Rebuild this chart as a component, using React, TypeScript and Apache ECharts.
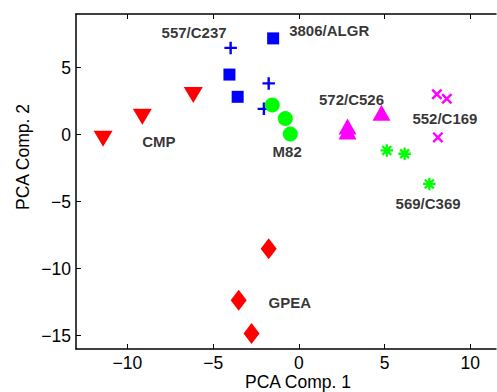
import React, { useEffect, useRef } from "react";
import * as echarts from "echarts";

// ---- data ----
const xTicks = [-10, -5, 0, 5, 10];
const yTicks = [-15, -10, -5, 0, 5];

const cmp = [[-11.42, -0.31], [-9.13, 1.33], [-6.16, 2.95]];
const gpea = [[-1.76, -8.52], [-3.51, -12.37], [-2.76, -14.84]];
const algr = [[-4.05, 4.48], [-3.57, 2.82], [-1.5, 7.18]];
const c237 = [[-3.98, 6.47], [-1.76, 3.82], [-2.04, 1.92]];
const m82 = [[-1.55, 2.2], [-0.79, 1.21], [-0.5, 0.04]];
const c526 = [[2.84, 0.61], [2.84, 0.24], [4.82, 1.63]];
const c169 = [[8.05, 3.01], [8.63, 2.67], [8.11, -0.21]];
const c369 = [[5.13, -1.18], [6.17, -1.43], [7.61, -3.68]];

const groupNames = ["557/C237", "3806/ALGR", "CMP", "M82", "572/C526", "552/C169", "569/C369", "GPEA"];
const groupLabelX = [-6.11, 1.77, -8.17, -0.68, 3.07, 8.52, 7.54, -0.53];
const groupLabelY = [7.64, 7.79, -0.52, -1.27, 2.59, 1.17, -5.12, -12.51];

// ---- symbols ----
const DOWN_TRI = "path://M0,0L20,0L10,17Z";
const PLUS = "path://M0,4.85H12V7.15H0ZM4.85,0H7.15V12H4.85Z";
const DIAG1 = "M0.979,2.535L2.535,0.979L11.021,9.465L9.465,11.021Z";
const DIAG2 = "M2.535,11.021L0.979,9.465L9.465,0.979L11.021,2.535Z";
const XMARK = "path://" + DIAG1 + DIAG2;
const ASTER = "path://M0,4.9H12V7.1H0ZM4.9,0H7.1V12H4.9Z" + DIAG1 + DIAG2;

const RED = "#ff0000";
const BLUE = "#0000ff";
const GREEN = "#00ff00";
const MAGENTA = "#ff00ff";
const FONT = "Liberation Sans, Arial, Helvetica, sans-serif";

export default function App() {
  const ref = useRef<HTMLDivElement>(null);
  useEffect(() => {
    if (!ref.current) return;
    const chart = echarts.init(ref.current, undefined, { renderer: "svg" });
    const fmt = (v: number) => String(v).replace("-", "\u2212");
    const axisLine = { show: true, onZero: false, lineStyle: { color: "#000", width: 1.5 } };
    const sc = (data: number[][], symbol: string, size: any, color: string) => ({
      type: "scatter",
      data,
      symbol,
      symbolSize: size,
      itemStyle: { color, opacity: 1 },
    });
    chart.setOption({
      animation: false,
      grid: { left: 76, top: 14, width: 420, height: 335, containLabel: false },
      xAxis: [
        {
          type: "value", position: "bottom", min: -13, max: 11.5,
          axisLine,
          axisTick: { show: true, inside: true, length: 5, customValues: xTicks, lineStyle: { color: "#000", width: 1 } },
          axisLabel: { customValues: xTicks, formatter: fmt, fontSize: 17.5, color: "#000", fontFamily: FONT, margin: 5 },
          splitLine: { show: false },
        },
        {
          type: "value", position: "top", min: -13, max: 11.5,
          axisLine,
          axisTick: { show: true, inside: true, length: 5, customValues: xTicks, lineStyle: { color: "#000", width: 1 } },
          axisLabel: { show: false },
          splitLine: { show: false },
        },
      ],
      yAxis: [
        {
          type: "value", position: "left", min: -16, max: 9,
          axisLine,
          axisTick: { show: true, inside: true, length: 5, customValues: yTicks, lineStyle: { color: "#000", width: 1 } },
          axisLabel: { customValues: yTicks, formatter: fmt, fontSize: 17.5, color: "#000", fontFamily: FONT, margin: 5 },
          splitLine: { show: false },
        },
      ],
      graphic: [
        {
          type: "text", x: 298, y: 391,
          style: { text: "PCA Comp. 1", fontSize: 17.5, fontFamily: FONT, fill: "#000", align: "center", verticalAlign: "bottom" },
        },
        {
          type: "text", x: 23, y: 157, rotation: Math.PI / 2,
          style: { text: "PCA Comp. 2", fontSize: 17.5, fontFamily: FONT, fill: "#000", align: "center", verticalAlign: "middle" },
        },
      ],
      series: [
        sc(cmp, DOWN_TRI, [19, 16], RED),
        sc(gpea, "diamond", [16, 21], RED),
        sc(algr, "rect", 12, BLUE),
        sc(c237, PLUS, 12.5, BLUE),
        sc(m82, "circle", 15, GREEN),
        sc(c526, "triangle", [18, 16], MAGENTA),
        sc(c169, XMARK, 11, MAGENTA),
        sc(c369, ASTER, 12.5, GREEN),
        {
          type: "scatter",
          symbolSize: 0,
          silent: true,
          data: groupNames.map((n, i) => ({ name: n, value: [groupLabelX[i], groupLabelY[i]] })),
          label: {
            show: true, position: "inside", formatter: "{b}",
            fontSize: 15, fontWeight: "bold", fontFamily: FONT, color: "#000",
          },
        },
      ],
    });
    return () => chart.dispose();
  }, []);
  return (
    <div
      ref={ref}
      style={{ position: "fixed", left: 0, top: 0, width: 497, height: 392, background: "#fff" }}
    />
  );
}
